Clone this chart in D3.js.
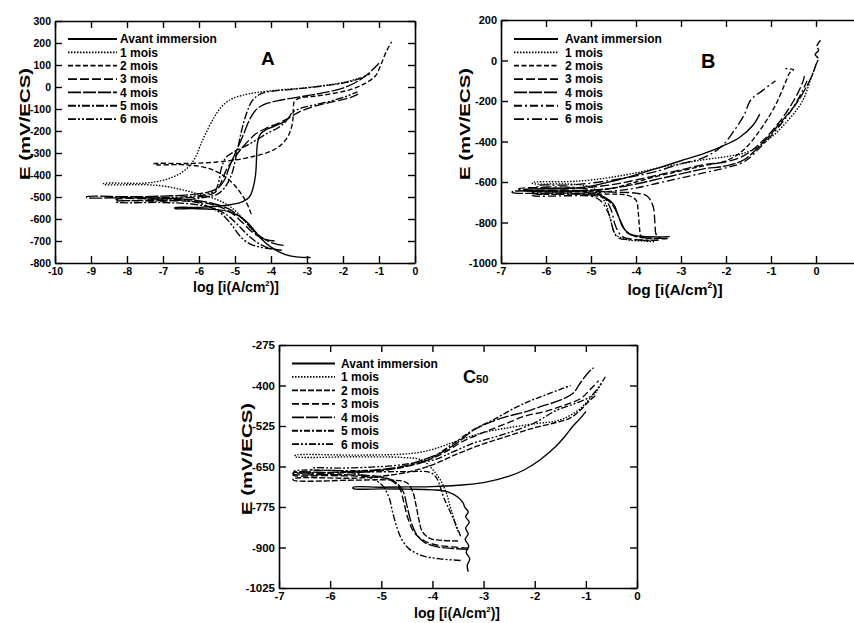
<!DOCTYPE html>
<html><head><meta charset="utf-8">
<script src="https://cdn.jsdelivr.net/npm/d3@7"></script>
<style>
body{margin:0;background:#fff}
svg text{font-family:"Liberation Sans",Arial,sans-serif;font-weight:bold;fill:#000}
</style>
</head><body>
<svg id="fig" width="854" height="623"></svg>
<script>
// ---------- labels ----------
const seriesNames = ["Avant immersion","1 mois","2 mois","3 mois","4 mois","5 mois","6 mois"];

// ---------- Panel A ----------
const A_xTicks = [-10,-9,-8,-7,-6,-5,-4,-3,-2,-1,0];
const A_yTicks = [-800,-700,-600,-500,-400,-300,-200,-100,0,100,200,300];
const A_avant = [[-2.9,-775],[-3.3,-772],[-3.6,-762],[-4.0,-728],[-4.3,-685],[-4.6,-625],[-4.9,-585],[-5.2,-565],[-5.6,-556],[-6.2,-553],[-6.67,-552],
  [-6.67,-549],[-6.0,-547],[-5.5,-542],[-5.1,-534],[-4.8,-522],[-4.6,-500],[-4.5,-460],[-4.43,-400],[-4.4,-320],[-4.38,-260],[-4.3,-215],[-4.15,-195],[-3.9,-178],[-3.55,-152]];
const A_m1 = [[-4.05,-700],[-4.3,-682],[-4.55,-645],[-4.8,-595],[-5.1,-548],[-5.5,-512],[-6.0,-487],[-6.5,-466],[-7.0,-450],[-7.5,-444],[-8.65,-442],
  [-8.65,-439],[-7.5,-437],[-7.0,-424],[-6.6,-400],[-6.3,-365],[-6.1,-320],[-5.95,-260],[-5.75,-190],[-5.55,-130],[-5.35,-85],[-5.1,-55],[-4.8,-38],[-4.4,-25],[-3.8,-14],[-3.2,-6],[-2.6,5],[-2.0,20],[-1.5,42]];
const A_m2 = [[-4.55,-578],[-4.6,-555],[-4.7,-520],[-4.85,-480],[-5.05,-440],[-5.3,-405],[-5.6,-378],[-6.0,-360],[-6.5,-353],[-7.25,-352],
  [-7.25,-349],[-6.5,-348],[-6.0,-346],[-5.5,-341],[-5.0,-332],[-4.5,-316],[-4.0,-292],[-3.7,-260],[-3.5,-215],[-3.4,-160],[-3.38,-100],[-3.35,-65],[-3.2,-50],[-2.8,-42],[-2.3,-30],[-1.8,-12],[-1.4,15],[-1.1,50],[-0.95,100],[-0.8,160],[-0.65,205]];
const A_m3 = [[-3.9,-700],[-4.2,-690],[-4.5,-662],[-4.8,-615],[-5.1,-572],[-5.5,-540],[-6.0,-523],[-7.0,-515],[-8.3,-513],
  [-8.3,-510],[-7.0,-508],[-6.2,-502],[-5.8,-494],[-5.55,-478],[-5.4,-440],[-5.25,-380],[-5.05,-330],[-4.85,-285],[-4.6,-240],[-4.4,-210],[-4.1,-185],[-3.8,-165],[-3.5,-140],[-3.2,-112],[-2.8,-88],[-2.3,-68],[-1.8,-48],[-1.55,-30]];
const A_m4 = [[-3.65,-720],[-3.9,-712],[-4.2,-690],[-4.5,-650],[-4.8,-598],[-5.2,-552],[-5.7,-526],[-6.3,-512],[-7.0,-505],[-8.0,-503],[-9.12,-502],
  [-9.12,-499],[-8.0,-499],[-7.0,-496],[-6.3,-490],[-5.8,-480],[-5.5,-462],[-5.3,-425],[-5.15,-360],[-4.95,-285],[-4.75,-210],[-4.6,-150],[-4.45,-110],[-4.2,-80],[-3.8,-62],[-3.2,-45],[-2.6,-28],[-2.0,-5],[-1.6,25],[-1.3,60],[-1.0,108]];
const A_m5 = [[-3.7,-742],[-4.0,-735],[-4.3,-715],[-4.6,-680],[-4.9,-630],[-5.2,-585],[-5.6,-550],[-6.2,-532],[-7.0,-525],[-8.3,-523],
  [-8.3,-520],[-7.0,-518],[-6.2,-510],[-5.8,-500],[-5.5,-488],[-5.3,-460],[-5.1,-400],[-4.95,-300],[-4.82,-200],[-4.68,-120],[-4.52,-62],[-4.3,-32],[-4.0,-20],[-3.5,-12],[-3.0,-4],[-2.5,6],[-2.0,18],[-1.6,35],[-1.25,60]];
const A_m6 = [[-3.95,-736],[-4.3,-728],[-4.6,-712],[-4.85,-680],[-5.1,-625],[-5.35,-580],[-5.7,-545],[-6.2,-520],[-6.8,-510],[-7.5,-508],
  [-7.5,-505],[-6.8,-502],[-6.2,-497],[-5.8,-488],[-5.55,-470],[-5.45,-430],[-5.38,-370],[-5.25,-320],[-5.0,-292],[-4.7,-268],[-4.4,-240],[-4.1,-210],[-3.8,-185],[-3.55,-150],[-3.4,-115],[-3.15,-95],[-2.8,-82],[-2.3,-62],[-1.9,-42],[-1.6,-22]];

// ---------- Panel B ----------
const B_xTicks = [-7,-6,-5,-4,-3,-2,-1,0];
const B_yTicks = [-1000,-800,-600,-400,-200,0,200];
const B_avant = [[-3.25,-870],[-3.9,-868],[-4.15,-855],[-4.3,-820],[-4.4,-760],[-4.5,-710],[-4.7,-675],[-5.0,-655],[-5.5,-645],[-6.5,-642],
  [-6.5,-638],[-5.5,-632],[-5.0,-620],[-4.5,-595],[-4.0,-565],[-3.5,-530],[-3.0,-495],[-2.5,-460],[-2.1,-425],[-1.7,-380],[-1.4,-320],[-1.25,-265]];
const B_m1 = [[-3.6,-895],[-3.8,-892],[-4.2,-885],[-4.45,-860],[-4.55,-800],[-4.65,-720],[-4.8,-660],[-5.0,-625],[-5.5,-610],[-6.3,-607],
  [-6.3,-603],[-5.5,-598],[-5.0,-590],[-4.5,-575],[-4.0,-555],[-3.5,-530],[-3.0,-510],[-2.5,-490],[-2.0,-475],[-1.5,-450],[-1.0,-380],[-0.6,-290],[-0.3,-200],[-0.1,-80],[0.0,-20]];
const B_m2 = [[-3.5,-882],[-3.6,-880],[-3.88,-870],[-3.92,-830],[-3.95,-750],[-4.0,-690],[-4.2,-665],[-4.5,-660],[-5.0,-660],[-5.5,-660],[-6.3,-657],
  [-6.3,-653],[-5.5,-650],[-5.0,-645],[-4.5,-630],[-4.0,-600],[-3.5,-570],[-3.0,-545],[-2.5,-520],[-2.0,-495],[-1.6,-440],[-1.2,-330],[-0.9,-220],[-0.7,-120],[-0.58,-60],[-0.5,-45],[-0.68,-40]];
const B_m3 = [[-3.3,-880],[-3.45,-878],[-3.55,-860],[-3.58,-800],[-3.62,-720],[-3.75,-670],[-4.0,-655],[-4.5,-650],[-5.0,-645],[-5.5,-640],[-6.6,-637],
  [-6.6,-633],[-5.5,-630],[-5.0,-625],[-4.5,-612],[-4.0,-590],[-3.5,-565],[-3.0,-540],[-2.5,-515],[-2.0,-500],[-1.6,-470],[-1.2,-400],[-0.8,-300],[-0.5,-200],[-0.3,-110],[-0.25,-70]];
const B_m4 = [[-3.3,-877],[-3.5,-878],[-4.0,-870],[-4.2,-850],[-4.35,-790],[-4.5,-720],[-4.7,-680],[-5.0,-665],[-5.5,-655],[-6.75,-652],
  [-6.75,-648],[-5.5,-645],[-5.0,-640],[-4.5,-630],[-4.0,-610],[-3.5,-585],[-3.0,-560],[-2.5,-535],[-2.0,-520],[-1.6,-490],[-1.2,-410],[-0.8,-310],[-0.4,-200],[-0.1,-80],[0.0,-20],[0.05,10],[-0.02,30],[0.06,50],[0.02,70],[0.1,100]];
const B_m5 = [[-3.5,-888],[-4.0,-885],[-4.4,-875],[-4.5,-840],[-4.6,-760],[-4.8,-690],[-5.0,-670],[-5.5,-668],[-6.3,-667],
  [-6.3,-663],[-5.5,-660],[-5.0,-655],[-4.5,-645],[-4.0,-630],[-3.5,-605],[-3.0,-580],[-2.5,-555],[-2.0,-530],[-1.6,-500],[-1.2,-420],[-0.8,-320],[-0.5,-230],[-0.3,-150],[-0.2,-100]];
const B_m6 = [[-3.7,-890],[-4.0,-885],[-4.3,-870],[-4.45,-820],[-4.55,-740],[-4.7,-680],[-5.0,-640],[-5.5,-625],[-6.2,-622],
  [-6.2,-618],[-5.5,-615],[-5.0,-605],[-4.5,-590],[-4.0,-570],[-3.5,-545],[-3.0,-510],[-2.5,-480],[-2.1,-425],[-1.8,-340],[-1.6,-270],[-1.45,-195],[-1.2,-150],[-0.9,-100]];

// ---------- Panel C ----------
const C_xTicks = [-7,-6,-5,-4,-3,-2,-1,0];
const C_yTicks = [-1025,-900,-775,-650,-525,-400,-275];
const C_avant = [[-3.3,-975],[-3.32,-955],[-3.27,-935],[-3.34,-915],[-3.29,-895],[-3.36,-875],[-3.3,-858],[-3.35,-840],[-3.28,-822],[-3.35,-805],[-3.3,-790],[-3.37,-775],[-3.4,-762],[-3.5,-745],[-3.7,-728],[-4.0,-722],[-4.5,-720],[-5.0,-719],[-5.55,-718],
  [-5.55,-714],[-5.0,-714],[-4.5,-713],[-4.0,-712],[-3.5,-708],[-3.0,-700],[-2.5,-680],[-2.2,-660],[-1.9,-630],[-1.6,-590],[-1.4,-555],[-1.25,-525],[-1.1,-500],[-1.0,-480]];
const C_m1 = [[-3.5,-850],[-3.55,-830],[-3.6,-800],[-3.66,-770],[-3.72,-735],[-3.78,-712],[-3.85,-690],[-3.95,-668],[-4.05,-650],[-4.2,-630],[-4.6,-622],[-5.5,-620],[-6.69,-619],
  [-6.69,-616],[-5.5,-615],[-4.6,-612],[-4.2,-605],[-3.85,-590],[-3.5,-570],[-3.0,-545],[-2.5,-530],[-2.0,-518],[-1.6,-510],[-1.35,-496],[-1.1,-470],[-0.95,-445],[-0.8,-420],[-0.7,-395]];
const C_m2 = [[-3.5,-880],[-3.8,-878],[-4.05,-872],[-4.2,-850],[-4.27,-810],[-4.32,-770],[-4.38,-730],[-4.5,-700],[-4.8,-692],[-5.5,-692],[-6.72,-692],
  [-6.72,-688],[-5.5,-686],[-5.0,-680],[-4.5,-668],[-4.0,-645],[-3.5,-610],[-3.0,-580],[-2.5,-555],[-2.0,-530],[-1.6,-515],[-1.3,-500],[-1.1,-475],[-0.95,-450],[-0.8,-430]];
const C_m3 = [[-3.3,-902],[-3.6,-898],[-3.9,-893],[-4.15,-880],[-4.35,-855],[-4.48,-810],[-4.56,-760],[-4.65,-715],[-4.85,-690],[-5.2,-682],[-6.0,-678],[-6.72,-677],
  [-6.72,-673],[-6.0,-671],[-5.2,-666],[-4.7,-656],[-4.2,-637],[-3.8,-610],[-3.4,-572],[-3.0,-545],[-2.6,-520],[-2.2,-495],[-1.8,-480],[-1.4,-460],[-1.1,-440],[-0.9,-410],[-0.75,-385]];
const C_m4 = [[-3.3,-906],[-3.6,-903],[-3.9,-898],[-4.15,-885],[-4.3,-862],[-4.42,-820],[-4.5,-770],[-4.58,-725],[-4.75,-695],[-5.1,-680],[-6.0,-675],[-6.72,-673],
  [-6.72,-669],[-6.0,-668],[-5.2,-662],[-4.6,-650],[-4.2,-630],[-3.85,-609],[-3.5,-575],[-3.2,-538],[-2.9,-515],[-2.55,-496],[-2.2,-482],[-1.9,-466],[-1.5,-445],[-1.25,-424],[-1.1,-390],[-0.95,-360],[-0.85,-345]];
const C_m5 = [[-3.45,-865],[-3.5,-845],[-3.58,-815],[-3.68,-780],[-3.78,-745],[-3.85,-712],[-3.92,-685],[-4.05,-668],[-4.5,-666],[-5.5,-667],[-6.7,-667],
  [-6.7,-664],[-5.5,-663],[-4.8,-658],[-4.3,-640],[-3.98,-620],[-3.6,-580],[-3.2,-537],[-2.8,-505],[-2.4,-470],[-2.1,-448],[-1.8,-430],[-1.5,-412],[-1.3,-400]];
const C_m6 = [[-3.45,-940],[-3.85,-935],[-4.2,-925],[-4.45,-905],[-4.6,-875],[-4.7,-835],[-4.78,-790],[-4.85,-745],[-5.0,-705],[-5.3,-680],[-5.8,-663],[-6.36,-660],
  [-6.36,-656],[-5.8,-655],[-5.2,-652],[-4.8,-648],[-4.4,-640],[-3.98,-630],[-3.6,-605],[-3.2,-578],[-2.8,-560],[-2.55,-548],[-2.0,-515],[-1.57,-476],[-1.2,-455],[-0.92,-435],[-0.75,-405],[-0.62,-373]];

// ---------- styles ----------
const dashA = [null,"1.5,1.5","5,2.5","9,3","13,2","8,2,2,2","8,2,2,2,2,2"];
const dashB = [null,"1.5,1.5","5,2.5","9,3","13,2","8,3,2,3","10,3,2,3"];
const dashC = [null,"1.5,1.5","6,2","7,3","12,2","6,2,2,2","7,2,2,2,2,2"];

const svg = d3.select("#fig");

const panels = [
  {x0:55,x1:415,y0:21,y1:263,xDom:[-10,0],yDom:[-800,300],xTicks:A_xTicks,yTicks:A_yTicks,
   series:[A_avant,A_m1,A_m2,A_m3,A_m4,A_m5,A_m6],dash:dashA,tickFont:10.5,xPad:5,
   leg:{l1:68,l2:117,tx:120,ty:39,dy:13.35},title:{t:"A",sub:"",x:261,y:65,size:19},
   xlab:{x:236,y:292,size:14},ylab:{x:30,y:124,len:112,size:14}},
  {x0:501,x1:861,y0:20,y1:263,xDom:[-7,1],yDom:[-1000,200],xTicks:B_xTicks,yTicks:B_yTicks,
   series:[B_avant,B_m1,B_m2,B_m3,B_m4,B_m5,B_m6],dash:dashB,tickFont:11,xPad:4,
   leg:{l1:514,l2:558,tx:565,ty:39,dy:13.35},title:{t:"B",sub:"",x:701,y:68,size:20},
   xlab:{x:675,y:295,size:15.5},ylab:{x:470,y:124,len:112,size:14}},
  {x0:279,x1:637,y0:345,y1:588,xDom:[-7,0],yDom:[-1025,-275],xTicks:C_xTicks,yTicks:C_yTicks,
   series:[C_avant,C_m1,C_m2,C_m3,C_m4,C_m5,C_m6],dash:dashC,tickFont:11.5,xPad:4,
   leg:{l1:292,l2:335,tx:341,ty:363.5,dy:13.45},title:{t:"C",sub:"50",x:463,y:383,size:18},
   xlab:{x:457,y:618,size:14},ylab:{x:252,y:459,len:112,size:14}}
];

panels.forEach(p => {
  const x = d3.scaleLinear().domain(p.xDom).range([p.x0,p.x1]);
  const y = d3.scaleLinear().domain(p.yDom).range([p.y1,p.y0]);
  const g = svg.append("g");

  const styleAxis = (ax) => {
    ax.selectAll("path.domain").attr("stroke","#000").attr("stroke-width",1.6);
    ax.selectAll(".tick line").attr("stroke","#000").attr("stroke-width",1.4);
    ax.selectAll("text").attr("font-family",null).attr("font-size",p.tickFont).style("font-weight","bold");
    ax.attr("font-family",null).attr("font-size",null);
  };
  const fmt = d => (d<0 ? "-" : "") + Math.abs(d);

  const ab = g.append("g").attr("transform",`translate(0,${p.y1})`)
    .call(d3.axisBottom(x).tickValues(p.xTicks).tickSize(-7).tickSizeOuter(0).tickPadding(p.xPad).tickFormat(fmt));
  styleAxis(ab);
  const at = g.append("g").attr("transform",`translate(0,${p.y0})`)
    .call(d3.axisTop(x).tickValues(p.xTicks).tickSize(-7).tickSizeOuter(0).tickFormat(""));
  styleAxis(at);
  const al = g.append("g").attr("transform",`translate(${p.x0},0)`)
    .call(d3.axisLeft(y).tickValues(p.yTicks).tickSize(-7).tickSizeOuter(0).tickPadding(4).tickFormat(fmt));
  styleAxis(al);
  const ar = g.append("g").attr("transform",`translate(${p.x1},0)`)
    .call(d3.axisRight(y).tickValues(p.yTicks).tickSize(-7).tickSizeOuter(0).tickFormat(""));
  styleAxis(ar);

  const line = d3.line().x(d=>x(d[0])).y(d=>y(d[1])).curve(d3.curveCatmullRom.alpha(0.5));
  p.series.forEach((s,i) => {
    g.append("path").attr("d",line(s)).attr("fill","none").attr("stroke","#000")
      .attr("stroke-width",1.35).attr("stroke-dasharray",p.dash[i]);
  });

  // legend
  seriesNames.forEach((n,i) => {
    const yy = p.leg.ty + i*p.leg.dy;
    g.append("line").attr("x1",p.leg.l1).attr("x2",p.leg.l2).attr("y1",yy).attr("y2",yy)
      .attr("stroke","#000").attr("stroke-width",1.8).attr("stroke-dasharray",p.dash[i]);
    g.append("text").attr("x",p.leg.tx).attr("y",yy+4.3).attr("font-size",12).text(n);
  });

  // title (left-anchored at the letter's left edge)
  const t = g.append("text").attr("x",p.title.x).attr("y",p.title.y).attr("text-anchor","start")
    .attr("font-size",p.title.size).text(p.title.t);
  if (p.title.sub) t.append("tspan").attr("font-size",p.title.size*0.62).text(p.title.sub);

  // x label
  const xl = g.append("text").attr("x",p.xlab.x).attr("y",p.xlab.y).attr("text-anchor","middle")
    .attr("font-size",p.xlab.size).text("log [i(A/cm");
  xl.append("tspan").attr("font-size",p.xlab.size*0.55).attr("dy",-p.xlab.size*0.45).text("2");
  xl.append("tspan").attr("dy",p.xlab.size*0.45).text(")]");

  // y label
  g.append("text").attr("transform",`translate(${p.ylab.x},${p.ylab.y}) rotate(-90)`)
    .attr("text-anchor","middle").attr("font-size",p.ylab.size)
    .attr("textLength",p.ylab.len).attr("lengthAdjust","spacingAndGlyphs").text("E (mV/ECS)");
});
</script>
</body></html>
